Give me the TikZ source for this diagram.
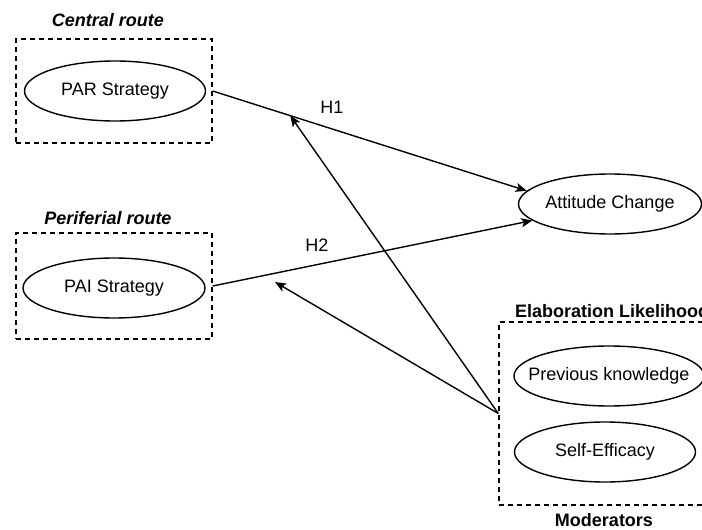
\documentclass[tikz,border=0pt]{standalone}
\usepackage{fontspec}
\setmainfont{Liberation Sans}
\usetikzlibrary{arrows.meta,shapes.geometric}
\begin{document}
\begin{tikzpicture}[x=1pt,y=-1pt,
 ell/.style={ellipse, draw, line width=1.4pt, minimum height=60pt, inner sep=0pt, font=\fontsize{18}{21}\selectfont},
 grp/.style={draw, dash pattern=on 5pt off 4pt, line width=1.4pt, inner sep=0pt},
 ttl/.style={font=\fontsize{18}{21}\selectfont\bfseries\itshape, inner sep=0pt},
 mttl/.style={font=\fontsize{18}{21}\selectfont\bfseries, inner sep=0pt},
 arr/.style={-{Stealth[length=11pt,width=9pt,inset=2.5pt]}, line width=1.4pt},
 lbl/.style={font=\fontsize{18}{21}\selectfont, inner sep=0pt}]
\useasboundingbox (0,0) rectangle (702,530);
\clip (0,0) rectangle (702,530);
% group boxes
\node[grp, minimum width=196pt, minimum height=104pt] (box1) at (114,91) {};
\node[grp, minimum width=196pt, minimum height=106pt] (box2) at (114,286) {};
\node[grp, minimum width=222pt, minimum height=183pt] (box3) at (610,413.5) {};
% titles
\node[ttl] (t1) at (108,20) {Central route};
\node[ttl] (t2) at (108,218) {Periferial route};
\node[mttl, anchor=west] (t3) at (515,311) {Elaboration Likelihood};
\node[mttl] (t4) at (604,520) {Moderators};
% ellipses
\node[ell, minimum width=181pt] (par) at (115,91) {PAR Strategy};
\node[ell, minimum width=182pt] (pai) at (114,288) {PAI Strategy};
\node[ell, minimum width=183pt] (att) at (610,204) {Attitude Change};
\node[ell, minimum width=190pt, inner xsep=-14pt] (prev) at (609,376) {Previous knowledge};
\node[ell, minimum width=181pt] (self) at (605,452) {Self-Efficacy};
% main arrows
\draw[arr] (box1.east) -- coordinate[pos=0.247] (h1p) (att.171);
\draw[arr] (box2.east) -- (att.192.5);
\coordinate (h2p) at (275,282);
% moderator arrows
\draw[arr] (box3.west) -- (h1p);
\draw[arr] (box3.west) -- (h2p);
% labels
\node[lbl] (h1) at (332,107) {H1};
\node[lbl] (h2) at (317,245) {H2};
\end{tikzpicture}
\end{document}
